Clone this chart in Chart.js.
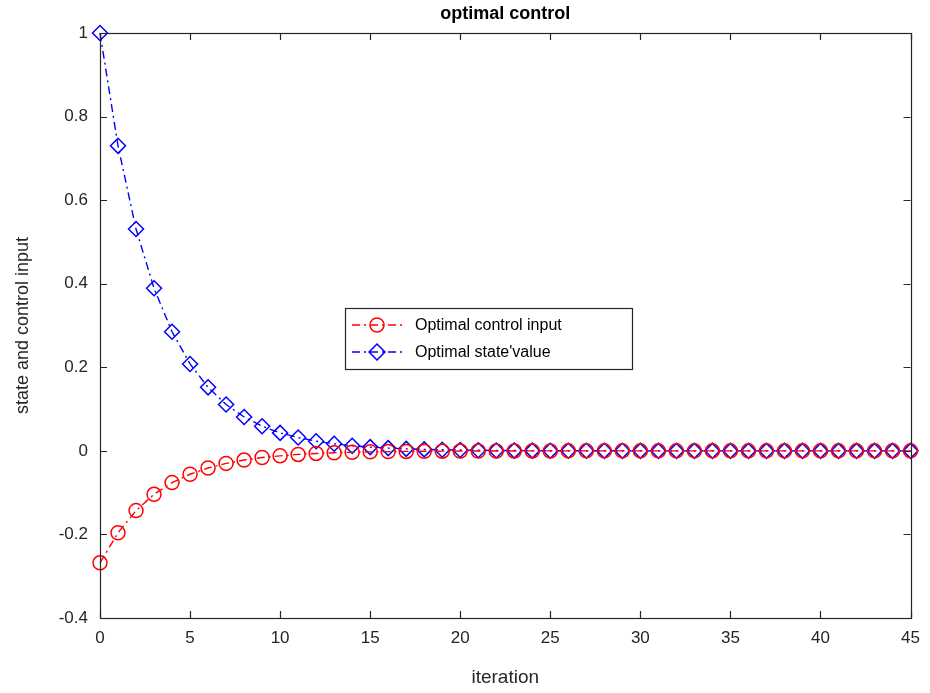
<!DOCTYPE html>
<html>
<head>
<meta charset="utf-8">
<script src="https://cdn.jsdelivr.net/npm/chart.js@4/dist/chart.umd.min.js"></script>
<style>
  html, body { margin: 0; padding: 0; background: #fff; }
  #wrap { width: 930px; height: 693px; }
</style>
</head>
<body>
<div id="wrap"><canvas id="myChart" width="930" height="693"></canvas></div>
<script>
// values
var iterations = [];
for (var i = 0; i <= 45; i++) iterations.push(i);

var stateValue = [1.0, 0.73, 0.531, 0.389, 0.285, 0.208, 0.152, 0.111, 0.081, 0.059,
  0.043, 0.032, 0.023, 0.017, 0.012, 0.009, 0.0066, 0.0048, 0.0035, 0.0026,
  0.0019, 0.0014, 0.001, 0.0007, 0.0005, 0.0004, 0.0003, 0.0002, 0.0001, 0.0001,
  0, 0, 0, 0, 0, 0, 0, 0, 0, 0, 0, 0, 0, 0, 0, 0];

var controlInput = [-0.268, -0.196, -0.143, -0.104, -0.076, -0.056, -0.041, -0.03, -0.022, -0.016,
  -0.012, -0.0085, -0.0062, -0.0045, -0.0033, -0.0024, -0.0018, -0.0013, -0.0009, -0.0007,
  -0.0005, -0.0004, -0.0003, -0.0002, -0.0001, -0.0001, 0, 0, 0, 0,
  0, 0, 0, 0, 0, 0, 0, 0, 0, 0, 0, 0, 0, 0, 0, 0];

var xTicks = [0, 5, 10, 15, 20, 25, 30, 35, 40, 45];
var yTicks = [-0.4, -0.2, 0, 0.2, 0.4, 0.6, 0.8, 1];
var yTickLabels = ['-0.4', '-0.2', '0', '0.2', '0.4', '0.6', '0.8', '1'];

var axisColor = '#262626';
var fontFam = '"Liberation Sans", Arial, Helvetica, sans-serif';

function toPoints(xs, ys) {
  var pts = [];
  for (var i = 0; i < xs.length; i++) pts.push({x: xs[i], y: ys[i]});
  return pts;
}

// FUNCTION: matlab style box, inward ticks, title and legend
var matlabBox = {
  id: 'matlabBox',
  afterDatasetsDraw: function(chart) {
    var ctx = chart.ctx, a = chart.chartArea;
    var xs = chart.scales.x, ys = chart.scales.y;
    var tl = 7;
    ctx.save();
    ctx.strokeStyle = axisColor;
    ctx.lineWidth = 1.2;
    ctx.strokeRect(Math.round(a.left) + 0.5, Math.round(a.top) + 0.5,
      Math.round(a.right - a.left), Math.round(a.bottom - a.top));
    ctx.beginPath();
    xTicks.forEach(function(v) {
      var px = Math.round(xs.getPixelForValue(v)) + 0.5;
      ctx.moveTo(px, a.bottom); ctx.lineTo(px, a.bottom - tl);
      ctx.moveTo(px, a.top); ctx.lineTo(px, a.top + tl);
    });
    yTicks.forEach(function(v) {
      var py = Math.round(ys.getPixelForValue(v)) + 0.5;
      ctx.moveTo(a.left, py); ctx.lineTo(a.left + tl, py);
      ctx.moveTo(a.right, py); ctx.lineTo(a.right - tl, py);
    });
    ctx.stroke();
    ctx.restore();
  },
  afterDraw: function(chart) {
    var ctx = chart.ctx, a = chart.chartArea;
    ctx.save();
    // title
    ctx.fillStyle = '#000';
    ctx.font = 'bold 18px ' + fontFam;
    ctx.textAlign = 'center';
    ctx.textBaseline = 'middle';
    ctx.fillText('optimal control', (a.left + a.right) / 2, 14);

    // legend
    var lx = 345, ly = 308, lw = 287, lh = 61;
    ctx.fillStyle = '#fff';
    ctx.fillRect(lx, ly, lw, lh);
    ctx.strokeStyle = axisColor;
    ctx.lineWidth = 1.2;
    ctx.strokeRect(lx + 0.5, ly + 0.5, lw, lh);
    var rows = [325, 352];
    chart.data.datasets.forEach(function(ds, i) {
      var cy = rows[i];
      ctx.strokeStyle = ds.borderColor;
      ctx.lineWidth = ds.borderWidth;
      ctx.setLineDash(ds.borderDash);
      ctx.beginPath();
      ctx.moveTo(352, cy); ctx.lineTo(402, cy);
      ctx.stroke();
      ctx.setLineDash([]);
      ctx.lineWidth = ds.pointBorderWidth;
      ctx.beginPath();
      if (ds.pointStyle === 'circle') {
        ctx.arc(377, cy, ds.pointRadius, 0, Math.PI * 2);
      } else {
        var r = ds.pointRadius * Math.SQRT2 * 0.75;
        ctx.moveTo(377, cy - r); ctx.lineTo(377 + r, cy);
        ctx.lineTo(377, cy + r); ctx.lineTo(377 - r, cy); ctx.closePath();
      }
      ctx.stroke();
      ctx.fillStyle = '#000';
      ctx.font = '16px ' + fontFam;
      ctx.textAlign = 'left';
      ctx.fillText(ds.label, 415, cy + 1);
    });
    ctx.restore();
  }
};

var ctx = document.getElementById('myChart').getContext('2d');

var chart = new Chart(ctx, {
  type: 'line',
  data: {
    datasets: [{
      label: 'Optimal control input',
      data: toPoints(iterations, controlInput),
      borderColor: '#ff0000',
      borderWidth: 1.4,
      borderDash: [8, 4, 2, 4],
      backgroundColor: 'transparent',
      pointStyle: 'circle',
      pointRadius: 7,
      pointBorderColor: '#ff0000',
      pointBackgroundColor: 'transparent',
      pointBorderWidth: 1.5,
      tension: 0,
      clip: false
    }, {
      label: "Optimal state'value",
      data: toPoints(iterations, stateValue),
      borderColor: '#0000ff',
      borderWidth: 1.4,
      borderDash: [8, 4, 2, 4],
      backgroundColor: 'transparent',
      pointStyle: 'rectRot',
      pointRadius: 7.5,
      pointBorderColor: '#0000ff',
      pointBackgroundColor: 'transparent',
      pointBorderWidth: 1.5,
      tension: 0,
      clip: false
    }]
  },
  plugins: [matlabBox],
  options: {
    responsive: false,
    animation: false,
    layout: { padding: { left: 0, right: 16, top: 33, bottom: 0 } },
    plugins: {
      legend: { display: false },
      title: { display: false },
      tooltip: { enabled: false }
    },
    scales: {
      x: {
        type: 'linear',
        min: 0, max: 45,
        afterBuildTicks: function(s) { s.ticks = xTicks.map(function(v) { return {value: v}; }); },
        afterFit: function(s) { s.height = 75; },
        grid: { display: false, drawTicks: false },
        border: { display: false },
        ticks: { color: axisColor, padding: 10, maxRotation: 0, font: { family: fontFam, size: 17 } },
        title: { display: true, text: 'iteration', color: axisColor, padding: { top: 4, bottom: 4 },
          font: { family: fontFam, size: 19 } }
      },
      y: {
        min: -0.4, max: 1,
        afterBuildTicks: function(s) { s.ticks = yTicks.map(function(v) { return {value: v}; }); },
        afterFit: function(s) { s.width = 100; },
        grid: { display: false, drawTicks: false },
        border: { display: false },
        ticks: {
          color: axisColor, padding: 12, font: { family: fontFam, size: 17 },
          callback: function(v) { return yTickLabels[yTicks.indexOf(Math.round(v * 10) / 10)]; }
        },
        title: { display: true, text: 'state and control input', color: axisColor,
          padding: { top: 12, bottom: 4 }, font: { family: fontFam, size: 18 } }
      }
    }
  }
});
</script>
</body>
</html>
